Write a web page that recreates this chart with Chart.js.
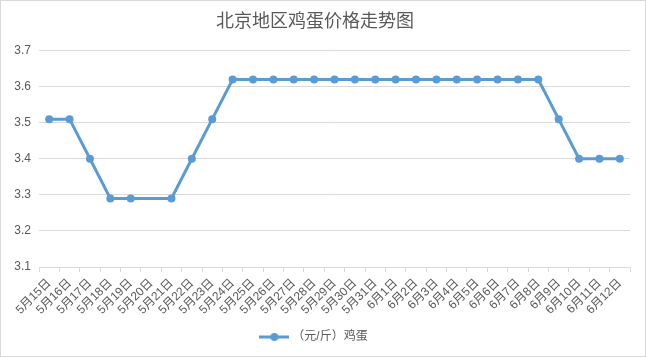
<!DOCTYPE html>
<html><head><meta charset="utf-8">
<script src="https://cdn.jsdelivr.net/npm/chart.js@4/dist/chart.umd.min.js"></script>
<style>html,body{margin:0;padding:0;background:#fff;}#wrap{width:646px;height:357px;position:relative;}</style>
</head><body><div id="wrap"><canvas id="c" width="646" height="357"></canvas></div>
<script>
const categories = ["5月15日","5月16日","5月17日","5月18日","5月19日","5月20日","5月21日","5月22日","5月23日","5月24日","5月25日","5月26日","5月27日","5月28日","5月29日","5月30日","5月31日","6月1日","6月2日","6月3日","6月4日","6月5日","6月6日","6月7日","6月8日","6月9日","6月10日","6月11日","6月12日"];
const eggPrices = [3.51,3.51,3.40,3.29,3.29,null,3.29,3.40,3.51,3.62,3.62,3.62,3.62,3.62,3.62,3.62,3.62,3.62,3.62,3.62,3.62,3.62,3.62,3.62,3.62,3.51,3.40,3.40,3.40];
const seriesName = "（元/斤）鸡蛋";
const chartTitle = "北京地区鸡蛋价格走势图";

const FONT = "'Liberation Sans', 'Noto Sans CJK SC', sans-serif";
const TXT = '#595959';
const BLUE = '#5B9BD5';

const legendImg = document.createElement('canvas');
legendImg.width = 30; legendImg.height = 10;
(function(){const g = legendImg.getContext('2d');
g.strokeStyle = BLUE; g.lineWidth = 3; g.beginPath(); g.moveTo(0,5); g.lineTo(30,5); g.stroke();
g.fillStyle = BLUE; g.beginPath(); g.arc(15,5,4,0,Math.PI*2); g.fill();})();

const borderPlugin = {id:'outerBorder', afterDraw(chart){const c=chart.ctx; c.save(); c.strokeStyle='#d9d9d9'; c.lineWidth=1; c.strokeRect(0.5,0.5,chart.width-1,chart.height-1); c.restore();}};

new Chart(document.getElementById('c'), {
  type: 'line',
  data: { labels: categories, datasets: [{
    label: seriesName, data: eggPrices, spanGaps: true,
    borderColor: BLUE, backgroundColor: BLUE, borderWidth: 3,
    pointRadius: 4, pointBackgroundColor: BLUE, pointBorderWidth: 0, tension: 0,
    pointStyle: 'circle'
  }]},
  options: {
    responsive: false, animation: false,
    layout: { padding: { top: 6, left: 0, right: 16, bottom: 4 } },
    plugins: {
      title: { display: true, text: chartTitle, color: TXT, font: { family: FONT, size: 18, weight: 'normal' }, padding: { top: 5, bottom: 18 } },
      legend: { position: 'bottom', labels: { color: TXT, font: { family: FONT, size: 12 }, padding: 10, usePointStyle: true, pointStyleWidth: 24,
        generateLabels(chart){ const l = Chart.defaults.plugins.legend.labels.generateLabels(chart); l.forEach(i=>{i.pointStyle = legendImg;}); return l; } } },
      tooltip: { enabled: false }
    },
    scales: {
      x: { offset: true,
        grid: { display: true, drawOnChartArea: false, drawTicks: true, tickLength: 5, offset: true, color: '#d9d9d9' },
        border: { color: '#d9d9d9' },
        ticks: { color: TXT, font: { family: FONT, size: 12 }, maxRotation: 45, minRotation: 45, autoSkip: false, padding: 4 },
        afterFit(s){ s.height = 54; } },
      y: { min: 3.1, max: 3.7,
        grid: { color: '#d9d9d9', drawTicks: false },
        border: { display: false },
        ticks: { stepSize: 0.1, color: TXT, font: { family: FONT, size: 12 }, padding: 8, callback: v => Number(v).toFixed(1) },
        afterFit(s){ s.width = 39; } }
    }
  },
  plugins: [borderPlugin]
});
</script></body></html>
